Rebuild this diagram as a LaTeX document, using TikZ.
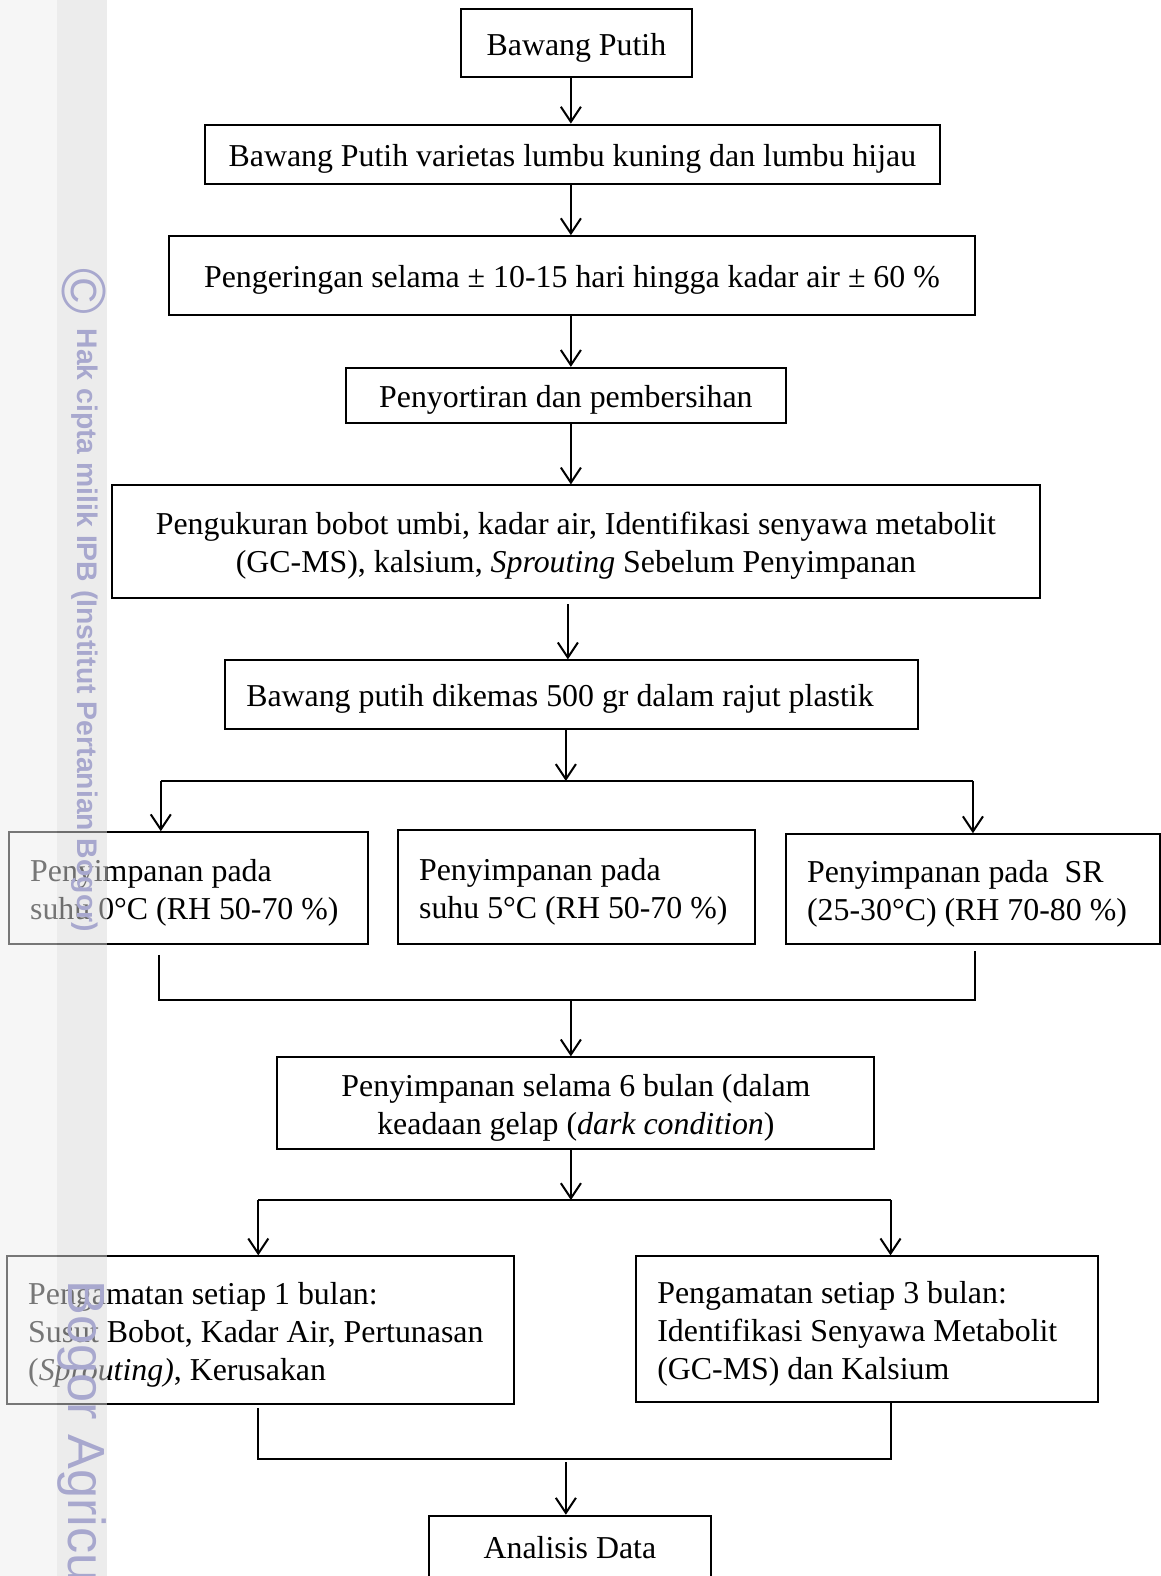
\documentclass[tikz,border=0pt]{standalone}
\usepackage{fontspec}
\setmainfont{Liberation Serif}
\newfontfamily\wmfont{Liberation Sans}
\usetikzlibrary{arrows.meta}
\definecolor{wmText}{RGB}{168,168,206}
\definecolor{wmBandA}{RGB}{238,238,238}
\definecolor{wmBandB}{RGB}{218,218,218}

\begin{document}
\begin{tikzpicture}[x=1pt, y=-1pt, line width=2pt,
    >={Straight Barb[length=15pt,width=20pt]},
    box/.style={draw, rectangle, inner ysep=0pt, font=\fontsize{31.7}{38}\selectfont,
        execute at begin node={\rule{0pt}{31pt}}},
    boxC/.style={box, align=flush center, inner xsep=8pt, minimum width=#1, text width={#1-16pt}},
    boxL/.style={box, align=flush left, inner xsep=21pt, minimum width=#1, text width={#1-42pt}},
    wmark/.style={wmText, rotate=-90, inner sep=0pt}]
    \useasboundingbox (0,0) rectangle (1155,1568);

    \node[boxC=229pt, minimum height=68pt] (bawang) at (573.5,43) {Bawang Putih};
    \node[boxC=731pt, minimum height=59pt] (varietas) at (569.5,153.5) {Bawang Putih varietas lumbu kuning dan lumbu hijau};
    \node[boxC=802pt, minimum height=78pt] (kering) at (569,274) {Pengeringan selama ± 10-15 hari hingga kadar air ± 60 \%};
    \node[boxC=438pt, minimum height=55pt] (sortir) at (563,393.5) {Penyortiran dan pembersihan};
    \node[boxC=924pt, minimum height=112pt] (ukur) at (573,539) {Pengukuran bobot umbi, kadar air, Identifikasi senyawa metabolit\\(GC-MS), kalsium, \textit{Sprouting} Sebelum Penyimpanan};
    \node[boxL=689pt, minimum height=68pt] (kemas) at (568.5,691) {Bawang putih dikemas 500 gr dalam rajut plastik};

    \node[boxL=357pt, minimum height=111pt] (suhuA) at (187.5,883.5) {Penyimpanan pada\\suhu 0°C (RH 50-70 \%)};
    \node[boxL=355pt, minimum height=113pt] (suhuB) at (573.5,882.5) {Penyimpanan pada\\suhu 5°C (RH 50-70 \%)};
    \node[boxL=372pt, minimum height=109pt] (suhuR) at (968,884.5) {Penyimpanan pada\ \ SR\\(25-30°C) (RH 70-80 \%)};

    \node[boxC=594pt, minimum height=91pt] (simpan) at (573,1097.5) {Penyimpanan selama 6 bulan (dalam\\keadaan gelap (\textit{dark condition})};

    \node[boxL=504pt, minimum height=147pt] (amatA) at (259,1323.5) {Pengamatan setiap 1 bulan:\\Susut Bobot, Kadar Air, Pertunasan\\(\textit{Sprouting)}, Kerusakan};
    \node[boxL=459pt, minimum height=145pt] (amatB) at (862.5,1322.5) {Pengamatan setiap 3 bulan:\\Identifikasi Senyawa Metabolit\\(GC-MS) dan Kalsium};

    \node[boxC=280pt, minimum height=68pt, text depth=14pt] (analisis) at (567,1542) {Analisis Data};

    \coordinate (spine) at (568,0);
    \draw[->] (bawang.south -| spine) -- (varietas.north -| spine);
    \draw[->] (varietas.south -| spine) -- (kering.north -| spine);
    \draw[->] (kering.south -| spine) -- (sortir.north -| spine);
    \draw[->] (sortir.south -| spine) -- (ukur.north -| spine);
    \draw[->, shorten <=5pt] (ukur.south -| 565,0) -- (kemas.north -| 565,0);

    \coordinate (forkA) at (563,777);
    \coordinate (forkAL) at (160,777);
    \coordinate (forkAR) at (968,777);
    \draw[->] (kemas.south -| forkA) -- (forkA);
    \draw (forkAL) -- (forkAR);
    \draw[->] (forkAL) -- (forkAL |- suhuA.north);
    \draw[->] (forkAR) -- (forkAR |- suhuR.north);

    \coordinate (joinAL) at (158,995);
    \coordinate (joinAR) at (970,995);
    \draw[shorten <=10pt, shorten >=6pt] (suhuA.south -| joinAL) -- (joinAL) -- (joinAR) -- (suhuR.south -| joinAR);
    \draw[->] (joinAL -| spine) -- (simpan.north -| spine);

    \coordinate (forkB) at (568,1194);
    \coordinate (forkBL) at (257,1194);
    \coordinate (forkBR) at (886,1194);
    \draw[->] (simpan.south -| forkB) -- (forkB);
    \draw (forkBL) -- (forkBR);
    \draw[->] (forkBL) -- (forkBL |- amatA.north);
    \draw[->] (forkBR) -- (forkBR |- amatB.north);

    \coordinate (joinBL) at (257,1452);
    \coordinate (joinBR) at (886,1452);
    \coordinate (joinB) at (563,1452);
    \draw[shorten <=3pt] (amatA.south -| joinBL) -- (joinBL) -- (joinBR) -- (amatB.south -| joinBR);
    \draw[->, shorten <=3pt] (joinB) -- (analisis.north -| joinB);

    \fill[wmBandA, opacity=0.5] (0,0) rectangle (57,1568);
    \fill[wmBandB, opacity=0.5] (57,0) rectangle (106,1568);
    \node[wmark, font=\wmfont\fontsize{62}{62}\selectfont] (copy) at (84,290) {©};
    \node[wmark, anchor=base west, font=\wmfont\bfseries\fontsize{28.2}{28.2}\selectfont] (hak) at (77,326) {Hak cipta milik IPB (Institut Pertanian Bogor)};
    \node[wmark, anchor=base west, font=\wmfont\fontsize{52}{52}\selectfont] (bogor) at (68,1273) {Bogor Agricu};
\end{tikzpicture}
\end{document}
